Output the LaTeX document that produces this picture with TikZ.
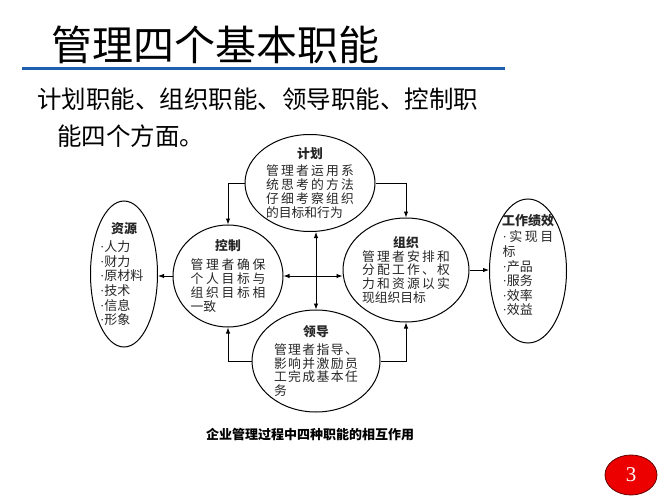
\documentclass[tikz,border=0pt]{standalone}
\usepackage{fontspec}
\setmainfont{Noto Sans CJK SC}
\newfontfamily\latinfont{Liberation Serif}
\usetikzlibrary{shapes.geometric,arrows.meta}
\definecolor{rulebar}{RGB}{30,96,176}
\definecolor{badgered}{RGB}{236,0,0}
\newcommand\dotmark{{\latinfont ·}}
\makeatletter
\newcommand\spreadrow[2]{\makebox[#1][s]{\@tfor\sr@c:=#2\do{\sr@c\hfil}\unskip}}
\makeatother
\newcommand\leftrow[2]{\makebox[#1][l]{#2}}
\tikzset{
	func/.style={draw, ellipse, line width=1pt, inner sep=0pt},
	fntext/.style={align=center, inner sep=0pt, text=black!85, font=\fontsize{12.8pt}{13.8pt}\selectfont},
	listtext/.style={align=center, inner sep=0pt, text=black!85, font=\fontsize{13pt}{14.6pt}\selectfont},
	tip/.tip={Latex[length=6pt, width=4.5pt]},
	link/.style={line width=0.9pt, -tip},
}

\begin{document}
\begin{tikzpicture}[x=1pt, y=-1pt]
	\useasboundingbox (0,0) rectangle (667,500);
	% heading
	\node[anchor=base west, inner sep=0pt, font=\fontsize{41pt}{41pt}\selectfont] (title) at (51,61) {管理四个基本职能};
	\draw[rulebar, line width=3pt] (22,69) -- (505,69);
	\node[anchor=base west, inner sep=0pt, font=\fontsize{24.5pt}{24.5pt}\selectfont] (intro) at (37,109) {计划职能、组织职能、领导职能、控制职};
	\node[anchor=base west, inner sep=0pt, font=\fontsize{24.5pt}{24.5pt}\selectfont] (introb) at (57,146) {能四个方面。};
	% the four functions
	\node[func, minimum width=130pt, minimum height=97pt] (plan) at (310,183) {};
	\node[func, minimum width=110pt, minimum height=102pt] (ctrl) at (228,276) {};
	\node[func, minimum width=126pt, minimum height=104pt] (org) at (406,270) {};
	\node[func, minimum width=128pt, minimum height=102pt] (lead) at (316,361) {};
	\node[func, minimum width=67pt, minimum height=146pt] (res) at (124,274) {};
	\node[func, minimum width=77pt, minimum height=144pt] (perf) at (528,271) {};
	\node[fntext] (plantxt) at (plan) {\textbf{计划}\\[3pt]\spreadrow{88pt}{管理者运用系}\\\spreadrow{88pt}{统思考的方法}\\\spreadrow{88pt}{仔细考察组织}\\\leftrow{88pt}{的目标和行为}};
	\node[fntext] (ctrltxt) at (ctrl) {\textbf{控制}\\[5pt]\spreadrow{75pt}{管理者确保}\\\spreadrow{75pt}{个人目标与}\\\spreadrow{75pt}{组织目标相}\\\leftrow{75pt}{一致}};
	\node[fntext] (orgtxt) at (org) {\textbf{组织}\\\spreadrow{88pt}{管理者安排和}\\\spreadrow{88pt}{分配工作、权}\\\spreadrow{88pt}{力和资源以实}\\\leftrow{88pt}{现组织目标}};
	\node[fntext] (leadtxt) at (lead) {\textbf{领导}\\[4pt]\spreadrow{84pt}{管理者指导、}\\\spreadrow{84pt}{影响并激励员}\\\spreadrow{84pt}{工完成基本任}\\\leftrow{84pt}{务}};
	\node[listtext] (restxt) at (res) {\textbf{资源}\\[4pt]\leftrow{48pt}{\dotmark 人力}\\\leftrow{48pt}{\dotmark 财力}\\\leftrow{48pt}{\dotmark 原材料}\\\leftrow{48pt}{\dotmark 技术}\\\leftrow{48pt}{\dotmark 信息}\\\leftrow{48pt}{\dotmark 形象}};
	\node[listtext] (perftxt) at ([yshift=6pt]perf) {\textbf{工作绩效}\\[2pt]\spreadrow{51pt}{\dotmark 实现目}\\\leftrow{51pt}{标}\\\leftrow{51pt}{\dotmark 产品}\\\leftrow{51pt}{\dotmark 服务}\\\leftrow{51pt}{\dotmark 效率}\\\leftrow{51pt}{\dotmark 效益}};
	% connectors
	\draw[link] (plan.west) -| (ctrl.north);
	\draw[link] (plan.east) -| (org.north);
	\draw[link] (lead.west) -| (ctrl.south);
	\draw[link] (lead.east) -| (org.south);
	\draw[link, tip-tip] (lead.north |- plan.south) -- (lead.north);
	\draw[link, tip-tip] (ctrl.east) -- (ctrl.east -| org.west);
	\draw[link] (ctrl.west) -- (ctrl.west -| res.east);
	\draw[link] (org.east) -- (org.east -| perf.west);
	% caption and page mark
	\node[font=\bfseries\fontsize{13pt}{13pt}\selectfont] (caption) at (310,435) {企业管理过程中四种职能的相互作用};
	\node[ellipse, draw=red!40!black, fill=badgered, line width=0.8pt, minimum width=52pt, minimum height=40pt, text=white, font=\latinfont\fontsize{21pt}{21pt}\selectfont] (page) at (631,475) {3};
\end{tikzpicture}
\end{document}
